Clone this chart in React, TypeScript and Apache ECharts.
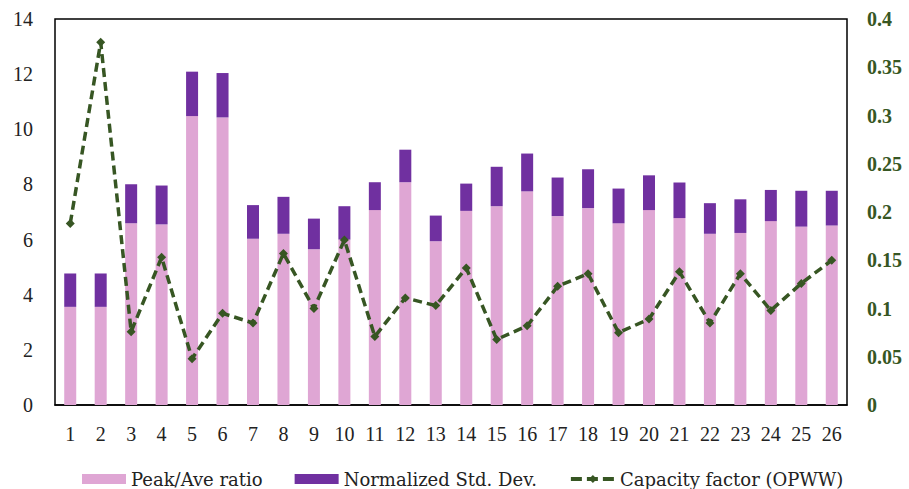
import React, { useEffect, useRef } from "react";
import * as echarts from "echarts";

const categories = ["1","2","3","4","5","6","7","8","9","10","11","12","13","14","15","16","17","18","19","20","21","22","23","24","25","26"];
const peakAve = [3.56,3.56,6.59,6.55,10.48,10.43,6.03,6.21,5.65,6.0,7.07,8.08,5.94,7.04,7.21,7.75,6.85,7.14,6.59,7.07,6.78,6.21,6.24,6.67,6.47,6.51];
const stdDev = [1.21,1.21,1.42,1.41,1.61,1.61,1.22,1.34,1.11,1.21,1.01,1.18,0.93,0.99,1.43,1.37,1.4,1.41,1.26,1.26,1.29,1.11,1.22,1.13,1.3,1.26];
const capacity = [0.188,0.376,0.076,0.153,0.048,0.095,0.085,0.157,0.1,0.171,0.071,0.111,0.103,0.142,0.068,0.082,0.123,0.136,0.075,0.089,0.138,0.085,0.136,0.098,0.126,0.15];
const leftTicks = { min: 0, max: 14, interval: 2 };
const rightTicks = { min: 0, max: 0.4, interval: 0.05 };

const FONT = "Liberation Serif";
const LEGEND_FONT = "DejaVu Serif";
const GREEN = "#375623";

export default function App() {
  const ref = useRef<HTMLDivElement>(null);
  useEffect(() => {
    if (!ref.current) return;
    const chart = echarts.init(ref.current, null, { renderer: "svg" });
    chart.setOption({
      animation: false,
      backgroundColor: "#fff",
      textStyle: { fontFamily: FONT },
      grid: { left: 55, right: 62, top: 19, bottom: 84, show: true, borderColor: "#000", borderWidth: 1.5, backgroundColor: "transparent" },
      legend: {
        top: 470,
        left: 82,
        padding: 0,
        itemWidth: 44,
        itemHeight: 10,
        itemGap: 32,
        textStyle: { fontFamily: LEGEND_FONT, fontSize: 18, color: "#222" },
        data: [
          { name: "Peak/Ave ratio", icon: "rect" },
          { name: "Normalized Std. Dev.", icon: "rect" },
          {
            name: "Capacity factor (OPWW)",
            lineStyle: { width: 4, type: [11, 5], color: GREEN },
            itemStyle: { color: GREEN },
          },
        ],
      },
      xAxis: {
        type: "category",
        data: categories,
        axisLine: { show: true, lineStyle: { color: "#000", width: 1.5 } },
        axisTick: { show: false },
        axisLabel: { fontFamily: FONT, fontSize: 20, color: "#222", margin: 19 },
      },
      yAxis: [
        {
          type: "value",
          ...leftTicks,
          splitLine: { show: false },
          axisLine: { show: false },
          axisTick: { show: false },
          axisLabel: { fontFamily: FONT, fontSize: 20, color: "#222", margin: 22 },
        },
        {
          type: "value",
          ...rightTicks,
          position: "right",
          splitLine: { show: false },
          axisLine: { show: false },
          axisTick: { show: false },
          axisLabel: { fontFamily: FONT, fontSize: 20, color: GREEN, fontWeight: "bold", margin: 20 },
        },
      ],
      series: [
        {
          name: "Peak/Ave ratio",
          type: "bar",
          stack: "s",
          data: peakAve,
          barWidth: 12,
          itemStyle: { color: "#DFA6D4" },
        },
        {
          name: "Normalized Std. Dev.",
          type: "bar",
          stack: "s",
          data: stdDev,
          barWidth: 12,
          itemStyle: { color: "#7030A0" },
        },
        {
          name: "Capacity factor (OPWW)",
          type: "line",
          yAxisIndex: 1,
          data: capacity,
          symbol: "diamond",
          symbolSize: 9,
          itemStyle: { color: GREEN },
          lineStyle: { color: GREEN, width: 3.5, type: [9, 5] },
          z: 5,
        },
      ],
    });
    return () => chart.dispose();
  }, []);
  return <div ref={ref} style={{ position: "absolute", left: 0, top: 0, width: 909, height: 489 }} />;
}
